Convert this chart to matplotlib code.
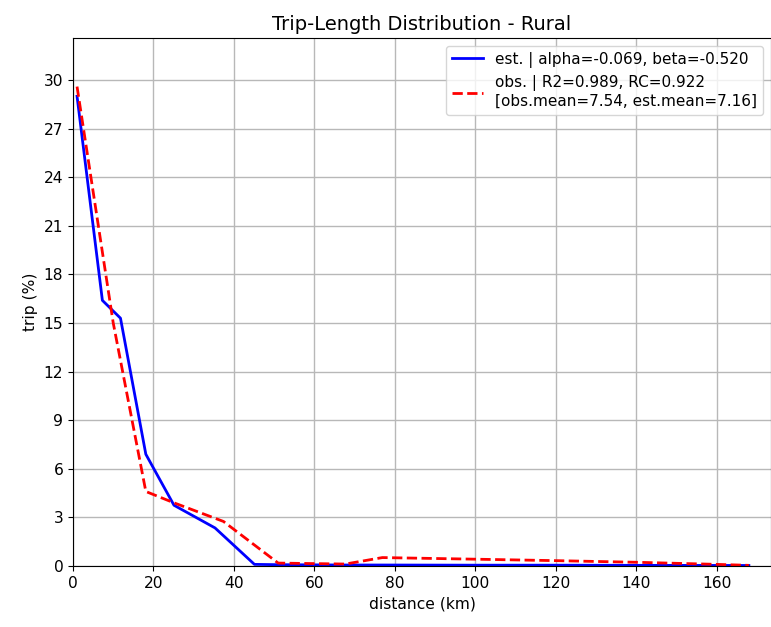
import matplotlib
matplotlib.use("Agg")
import matplotlib.pyplot as plt
import numpy as np

# estimated trip-length distribution
est_dist = [1.0, 7.3, 11.8, 18.1, 25.1, 35.3, 45.1, 51.0, 67.7, 76.9, 100.0, 120.0, 140.0, 168.0]
est_trip = [29.0, 16.4, 15.3, 6.9, 3.75, 2.35, 0.1, 0.08, 0.06, 0.06, 0.05, 0.05, 0.04, 0.03]

# observed trip-length distribution
obs_dist = [1.0, 10.0, 18.1, 25.1, 37.4, 51.0, 67.7, 76.9, 100.0, 120.0, 140.0, 160.0, 168.0]
obs_trip = [29.6, 15.0, 4.6, 3.9, 2.75, 0.18, 0.12, 0.52, 0.42, 0.33, 0.23, 0.1, 0.04]

est_label = 'est. | alpha=-0.069, beta=-0.520'
obs_label = 'obs. | R2=0.989, RC=0.922\n[obs.mean=7.54, est.mean=7.16]'

fig = plt.figure(figsize=(7.71, 6.27), dpi=100)
ax = fig.add_axes([0.0947, 0.0973, 0.9053, 0.8421])

ax.plot(est_dist, est_trip, color='blue', lw=2, label=est_label)
ax.plot(obs_dist, obs_trip, color='red', lw=2, ls='--', label=obs_label)

ax.set_xlim(0, 173.5)
ax.set_ylim(0, 32.6)
ax.set_yticks(np.arange(0, 31, 3))
ax.set_xticks(np.arange(0, 161, 20))
ax.tick_params(labelsize=11.2)
ax.grid(True, color='#b8b8b8', lw=1)

ax.set_title('Trip-Length Distribution - Rural', fontsize=14)
ax.set_xlabel('distance (km)', fontsize=11.2)
ax.set_ylabel('trip (%)', fontsize=11.2)
ax.legend(loc='upper right', fontsize=11)

plt.savefig('out.png', dpi=100)
